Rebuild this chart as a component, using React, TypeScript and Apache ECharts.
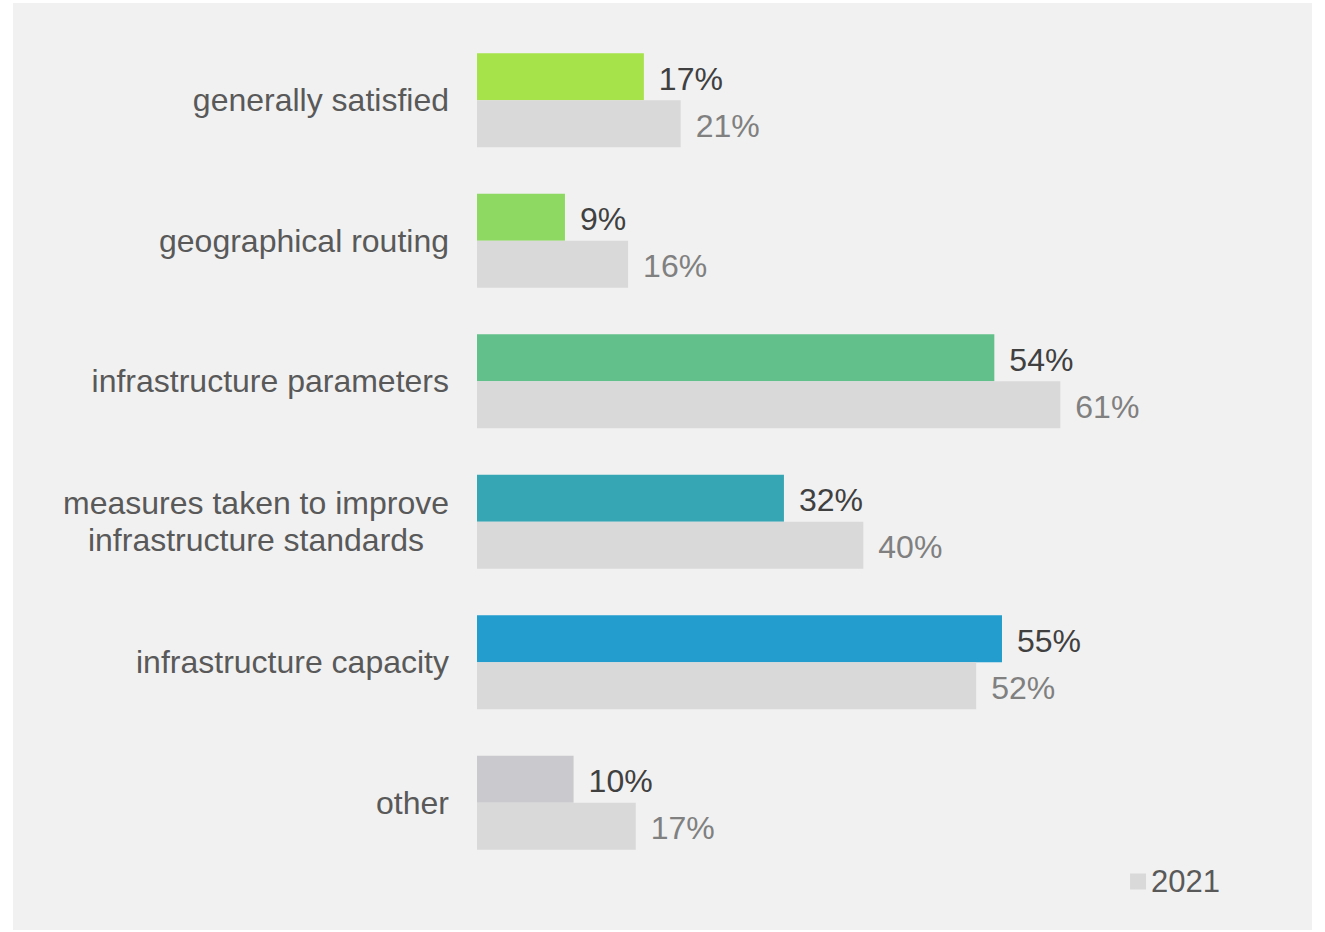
import React, { useEffect, useRef } from "react";
import * as echarts from "echarts";

const categories = [
  "generally satisfied",
  "geographical routing",
  "infrastructure parameters",
  "measures taken to improve\ninfrastructure standards",
  "infrastructure capacity",
  "other",
];
const valuesCurrent = [17.45, 9.2, 54.1, 32.1, 54.9, 10.1];
const values2021 = [21.3, 15.8, 61.0, 40.4, 52.2, 16.6];
const barColors = ["#a6e34a", "#8dd961", "#62c08a", "#37a6b4", "#229dcd", "#c9c9ce"];
const legendLabels = ["2021"];

const FONT = "'Liberation Sans', Arial, sans-serif";
const pct = (p: any) => `${Math.round(p.value)}%`;

export default function App() {
  const ref = useRef<HTMLDivElement>(null);
  useEffect(() => {
    document.body.style.margin = "0";
    const chart = echarts.init(ref.current!, null, { renderer: "svg" });
    chart.setOption({
      animation: false,
      backgroundColor: "transparent",
      textStyle: { fontFamily: FONT },
      legend: {
        data: legendLabels,
        right: 100,
        top: 861,
        itemWidth: 16,
        itemHeight: 16,
        itemGap: 10,
        icon: "rect",
        textStyle: { fontSize: 31, color: "#595959", fontFamily: FONT },
        selectedMode: false,
      },
      grid: { left: 477, top: 30, width: 765, height: 843, containLabel: false },
      xAxis: {
        type: "value",
        min: 0,
        max: 80,
        show: false,
      },
      yAxis: {
        type: "category",
        data: categories,
        inverse: true,
        axisLine: { show: false },
        axisTick: { show: false },
        axisLabel: {
          margin: 28,
          formatter: (v: string) =>
            v
              .split("\n")
              .map((l) => `{c|${l}}`)
              .join("\n"),
          rich: {
            c: {
              align: "center",
              fontSize: 32,
              lineHeight: 37,
              color: "#595959",
              fontFamily: FONT,
            },
          },
        },
      },
      series: [
        {
          name: "2022",
          type: "bar",
          data: valuesCurrent.map((v, i) => ({ value: v, itemStyle: { color: barColors[i] } })),
          barWidth: 47,
          barGap: "0%",
          label: {
            show: true,
            position: "right",
            distance: 15,
            offset: [0, 2],
            formatter: pct,
            fontSize: 32,
            color: "#404040",
            fontFamily: FONT,
          },
        },
        {
          name: "2021",
          type: "bar",
          data: values2021,
          barWidth: 47,
          barGap: "0%",
          itemStyle: { color: "#d9d9d9" },
          label: {
            show: true,
            position: "right",
            distance: 15,
            offset: [0, 2],
            formatter: pct,
            fontSize: 32,
            color: "#808080",
            fontFamily: FONT,
          },
        },
      ],
    });
    return () => chart.dispose();
  }, []);
  return (
    <div style={{ position: "relative", width: 1325, height: 932, background: "#ffffff" }}>
      <div
        style={{
          position: "absolute",
          left: 13,
          top: 3,
          width: 1299,
          height: 927,
          background: "#f1f1f1",
        }}
      />
      <div ref={ref} style={{ position: "absolute", left: 0, top: 0, width: 1325, height: 932 }} />
    </div>
  );
}
